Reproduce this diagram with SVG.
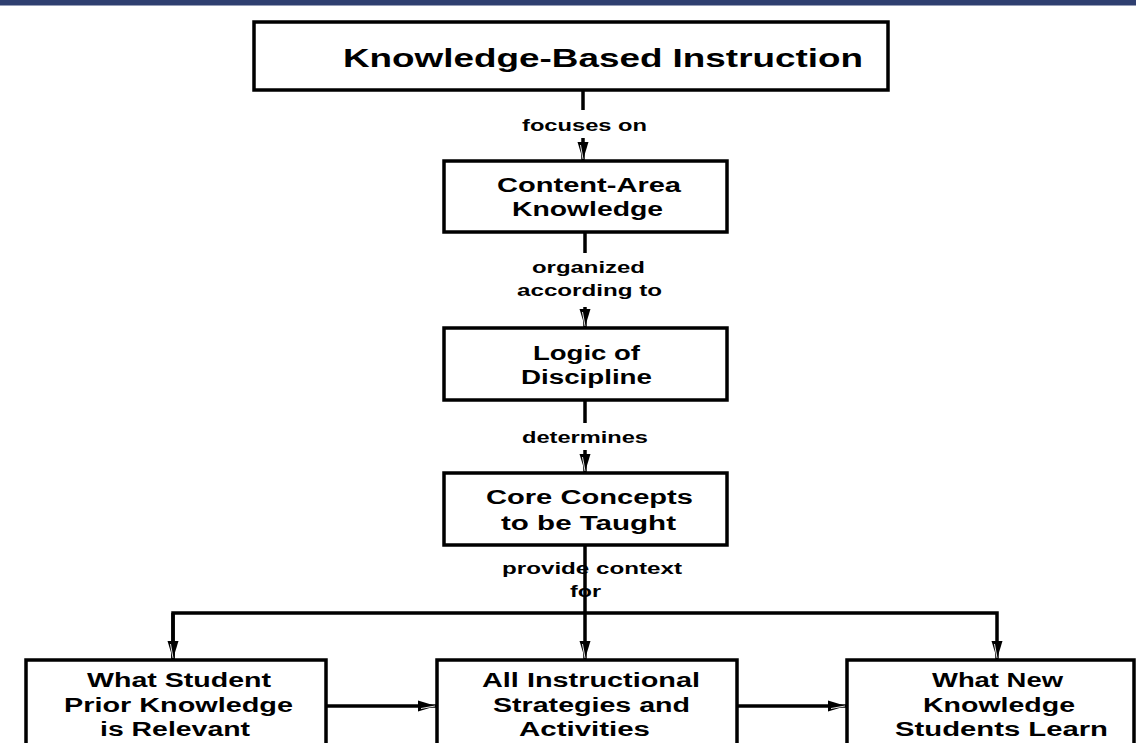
<svg xmlns="http://www.w3.org/2000/svg" width="1136" height="743" viewBox="0 0 1136 743">
<style>
.box{fill:#fff;stroke:#000;stroke-width:3.5}
.t{font-family:"Liberation Sans",Arial,sans-serif;font-weight:bold;fill:#000;text-anchor:middle}
.tt{font-size:25px}
.bt{font-size:20px}
.lt{font-size:17px}
.c{fill:none;stroke:#000;stroke-width:3.5}
</style>
<defs>
<marker id="ah" markerUnits="userSpaceOnUse" markerWidth="20" markerHeight="14" refX="18" refY="7" orient="auto">
<path d="M0,1.5 L18,7 L0,12.5 z" fill="#000"/>
<path d="M3,9.5 L17,7" stroke="#fff" stroke-width="0.9"/>
</marker>
</defs>
<rect x="0" y="0" width="1136" height="743" fill="#fff"/>
<rect x="0" y="0" width="1136" height="5.5" fill="#2F3F70"/>
<g id="connectors">
<text class="t lt" x="584.5" y="131" textLength="125" lengthAdjust="spacingAndGlyphs">focuses on</text>
<text class="t lt" x="588.5" y="273" textLength="113" lengthAdjust="spacingAndGlyphs">organized</text>
<text class="t lt" x="589.5" y="296" textLength="145" lengthAdjust="spacingAndGlyphs">according to</text>
<text class="t lt" x="585" y="443" textLength="126" lengthAdjust="spacingAndGlyphs">determines</text>
<text class="t lt" x="592" y="574" textLength="180" lengthAdjust="spacingAndGlyphs">provide context</text>
<text class="t lt" x="585.5" y="597" textLength="31" lengthAdjust="spacingAndGlyphs">for</text>
<line class="c" x1="583" y1="90" x2="583" y2="110"/>
<line class="c" x1="583" y1="138" x2="583" y2="160" marker-end="url(#ah)"/>
<line class="c" x1="585" y1="232" x2="585" y2="253"/>
<line class="c" x1="585" y1="307" x2="585" y2="327" marker-end="url(#ah)"/>
<line class="c" x1="585" y1="400" x2="585" y2="423"/>
<line class="c" x1="585" y1="450" x2="585" y2="472" marker-end="url(#ah)"/>
<line class="c" x1="585" y1="545" x2="585" y2="659" marker-end="url(#ah)"/>
<polyline class="c" points="173,659 173,613 997,613 997,659" marker-end="url(#ah)"/>
<line class="c" x1="173" y1="613" x2="173" y2="659" marker-end="url(#ah)"/>
<line class="c" x1="326" y1="706" x2="436" y2="706" marker-end="url(#ah)"/>
<line class="c" x1="737" y1="706" x2="846" y2="706" marker-end="url(#ah)"/>
</g>
<g id="n1">
<rect class="box" x="254" y="22" width="634" height="68"/>
<text class="t tt" x="603" y="67" textLength="520" lengthAdjust="spacingAndGlyphs">Knowledge-Based Instruction</text>
</g>
<g id="n2">
<rect class="box" x="444" y="161" width="283" height="71"/>
<text class="t bt" x="589" y="192" textLength="184" lengthAdjust="spacingAndGlyphs">Content-Area</text>
<text class="t bt" x="587.5" y="216" textLength="151" lengthAdjust="spacingAndGlyphs">Knowledge</text>
</g>
<g id="n3">
<rect class="box" x="444" y="328" width="283" height="72"/>
<text class="t bt" x="586.5" y="360" textLength="107" lengthAdjust="spacingAndGlyphs">Logic of</text>
<text class="t bt" x="586.5" y="384" textLength="131" lengthAdjust="spacingAndGlyphs">Discipline</text>
</g>
<g id="n4">
<rect class="box" x="444" y="473" width="283" height="72"/>
<text class="t bt" x="589.5" y="504" textLength="207" lengthAdjust="spacingAndGlyphs">Core Concepts</text>
<text class="t bt" x="588.5" y="530" textLength="175" lengthAdjust="spacingAndGlyphs">to be Taught</text>
</g>
<g id="n5">
<rect class="box" x="26" y="660" width="300" height="100"/>
<text class="t bt" x="179" y="687" textLength="184" lengthAdjust="spacingAndGlyphs">What Student</text>
<text class="t bt" x="178.5" y="712" textLength="229" lengthAdjust="spacingAndGlyphs">Prior Knowledge</text>
<text class="t bt" x="175" y="736" textLength="150" lengthAdjust="spacingAndGlyphs">is Relevant</text>
</g>
<g id="n6">
<rect class="box" x="437" y="660" width="300" height="100"/>
<text class="t bt" x="591" y="687" textLength="218" lengthAdjust="spacingAndGlyphs">All Instructional</text>
<text class="t bt" x="591.5" y="712" textLength="197" lengthAdjust="spacingAndGlyphs">Strategies and</text>
<text class="t bt" x="584.5" y="736" textLength="131" lengthAdjust="spacingAndGlyphs">Activities</text>
</g>
<g id="n7">
<rect class="box" x="847" y="660" width="287" height="100"/>
<text class="t bt" x="997.5" y="687" textLength="131" lengthAdjust="spacingAndGlyphs">What New</text>
<text class="t bt" x="999" y="712" textLength="152" lengthAdjust="spacingAndGlyphs">Knowledge</text>
<text class="t bt" x="1001.5" y="736" textLength="213" lengthAdjust="spacingAndGlyphs">Students Learn</text>
</g>
</svg>
